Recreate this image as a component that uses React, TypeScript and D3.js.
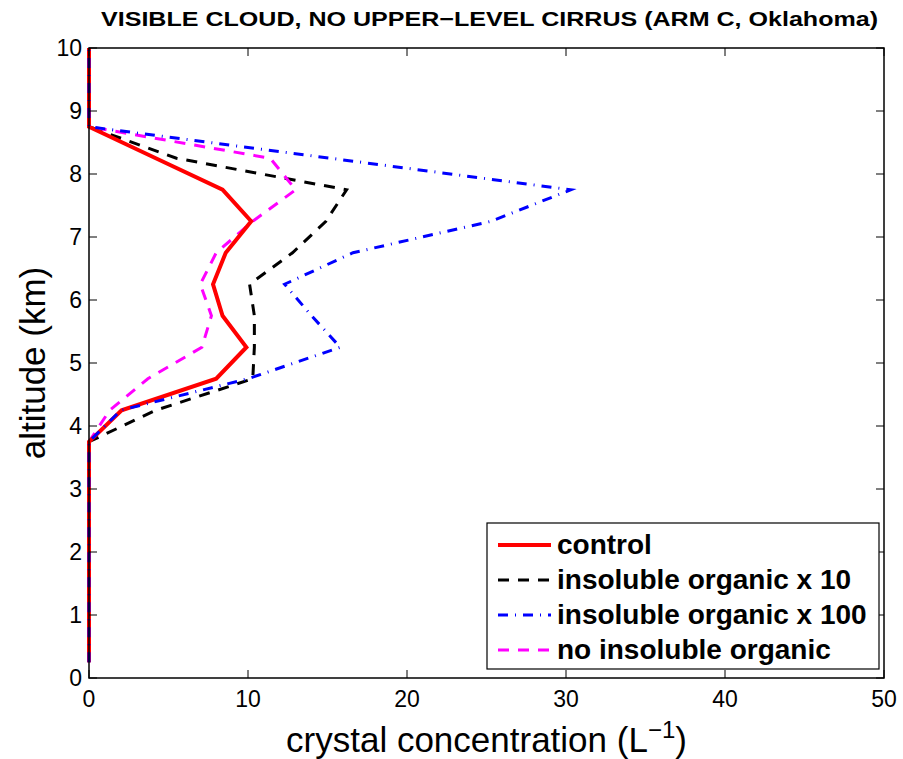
import React from "react";
import * as d3 from "d3";

// Altitude levels (km) of the model profile
const altitudes = [0.25, 0.75, 1.25, 1.75, 2.25, 2.75, 3.25, 3.75, 4.25, 4.75, 5.25, 5.75, 6.25, 6.75, 7.25, 7.75, 8.25, 8.75, 9.25, 9.75, 10];

// Crystal concentration (L^-1) at each altitude level
const control = [0, 0, 0, 0, 0, 0, 0, 0, 2.05, 8.0, 9.9, 8.4, 7.8, 8.6, 10.2, 8.4, 4.2, 0, 0, 0, 0];
const organicX10 = [0, 0, 0, 0, 0, 0, 0, 0, 4.2, 10.3, 10.4, 10.4, 10.1, 12.8, 14.9, 16.2, 5.5, 0, 0, 0, 0];
const organicX100 = [0, 0, 0, 0, 0, 0, 0, 0, 2.0, 10.0, 15.8, 14.0, 12.3, 16.6, 25.3, 30.3, 15.2, 0, 0, 0, 0];
const noOrganic = [0, 0, 0, 0, 0, 0, 0, 0, 1.3, 3.7, 7.1, 7.7, 7.0, 8.0, 10.3, 13.0, 11.4, 0, 0, 0, 0];

const xTicks = [0, 10, 20, 30, 40, 50];
const yTicks = [0, 1, 2, 3, 4, 5, 6, 7, 8, 9, 10];

const seriesNames = ["control", "insoluble organic x 10", "insoluble organic x 100", "no insoluble organic"];
const seriesValues = [control, organicX10, organicX100, noOrganic];
const seriesColors = ["#ff0000", "#000000", "#0000ff", "#ff00ff"];
const seriesWidths = [4, 3, 3, 3];
const seriesDash = ["none", "11 9", "10 7 1 7", "11 9"];

const W = 903;
const H = 759;
const left = 89;
const right = 884;
const top = 48;
const bottom = 678;

export default function App() {
  const x = d3.scaleLinear().domain([0, 50]).range([left, right]);
  const y = d3.scaleLinear().domain([0, 10]).range([bottom, top]);
  const font = "Liberation Sans, Arial, Helvetica, sans-serif";

  const line = d3
    .line<[number, number]>()
    .x((d) => x(d[0]))
    .y((d) => y(d[1]));

  // draw order: control above the blue curve at low altitudes
  const order = [1, 3, 0, 2];

  return (
    <svg
      width={W}
      height={H}
      style={{ position: "absolute", left: 0, top: 0, background: "#fff" }}
      fontFamily={font}
    >
      <rect x={0} y={0} width={W} height={H} fill="#fff" />
      <text
        x={489.5}
        y={26}
        textAnchor="middle"
        fontWeight="bold"
        fontSize={20}
        textLength={777}
        lengthAdjust="spacingAndGlyphs"
      >
        VISIBLE CLOUD, NO UPPER−LEVEL CIRRUS (ARM C, Oklahoma)
      </text>

      {/* curves */}
      <g fill="none" strokeLinejoin="miter">
        {order.map((i) => (
          <path
            key={seriesNames[i]}
            d={line(seriesValues[i].map((v, k) => [v, altitudes[k]] as [number, number])) || ""}
            stroke={seriesColors[i]}
            strokeWidth={seriesWidths[i]}
            strokeDasharray={seriesDash[i]}
          />
        ))}
      </g>

      {/* axes box and ticks */}
      <rect x={left} y={top} width={right - left} height={bottom - top} fill="none" stroke="#000" strokeWidth={1.5} />
      <g stroke="#000" strokeWidth={1}>
        {xTicks.map((t) => (
          <g key={"xt" + t}>
            <line x1={x(t)} x2={x(t)} y1={bottom} y2={bottom - 8} />
            <line x1={x(t)} x2={x(t)} y1={top} y2={top + 8} />
          </g>
        ))}
        {yTicks.map((t) => (
          <g key={"yt" + t}>
            <line x1={left} x2={left + 8} y1={y(t)} y2={y(t)} />
            <line x1={right} x2={right - 8} y1={y(t)} y2={y(t)} />
          </g>
        ))}
      </g>
      {xTicks.map((t) => (
        <text key={"xl" + t} x={x(t)} y={bottom + 29} textAnchor="middle" fontSize={23}>
          {t}
        </text>
      ))}
      {yTicks.map((t) => (
        <text key={"yl" + t} x={left - 7} y={y(t) + 8} textAnchor="end" fontSize={23}>
          {t}
        </text>
      ))}

      <text x={(left + right) / 2} y={752} textAnchor="middle" fontSize={35}>
        crystal concentration (L
        <tspan dy={-14} fontSize={24}>−1</tspan>
        <tspan dy={14}>)</tspan>
      </text>
      <text
        transform={`translate(45, ${(top + bottom) / 2}) rotate(-90)`}
        textAnchor="middle"
        fontSize={35}
      >
        altitude (km)
      </text>

      {/* legend */}
      <g>
        <rect x={487} y={523} width={392} height={146} fill="#fff" stroke="#000" strokeWidth={1.2} />
        {seriesNames.map((name, i) => {
          const ly = 545 + i * 35;
          return (
            <g key={name}>
              <line
                x1={498}
                x2={551}
                y1={ly}
                y2={ly}
                stroke={seriesColors[i]}
                strokeWidth={seriesWidths[i]}
                strokeDasharray={seriesDash[i]}
              />
              <text x={557} y={ly + 9} fontSize={28} fontWeight="bold">
                {name}
              </text>
            </g>
          );
        })}
      </g>
    </svg>
  );
}
